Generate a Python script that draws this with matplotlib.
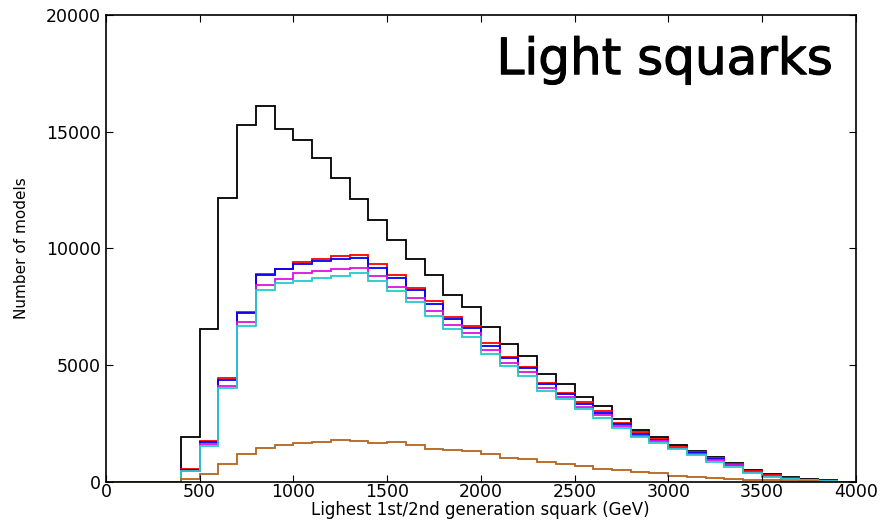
import numpy as np
import matplotlib
matplotlib.use("Agg")
import matplotlib.pyplot as plt
import matplotlib.patheffects as pe

# 100 GeV bins from 0 to 4000
edges = np.arange(0, 4001, 100)

all_models = [0, 0, 0, 0, 1930, 6540, 12160, 15280, 16090, 15140, 14660, 13890,
              13020, 12140, 11210, 10380, 9570, 8850, 8000, 7500, 6640, 5900,
              5400, 4640, 4180, 3640, 3240, 2690, 2210, 1930, 1570, 1330, 1070,
              790, 510, 330, 200, 110, 60, 0]
red_counts = [0, 0, 0, 0, 540, 1740, 4430, 7280, 8910, 9140, 9410, 9530, 9680,
              9710, 9320, 8880, 8310, 7750, 7070, 6680, 5930, 5340, 4930, 4240,
              3800, 3400, 3030, 2530, 2140, 1830, 1500, 1270, 1000, 760, 460,
              280, 150, 80, 60, 0]
blue_counts = [0, 0, 0, 0, 500, 1710, 4360, 7240, 8870, 9100, 9350, 9470, 9540,
               9580, 9180, 8750, 8210, 7640, 6970, 6610, 5810, 5290, 4860, 4180,
               3760, 3320, 2970, 2470, 2040, 1790, 1460, 1240, 960, 720, 440,
               270, 140, 80, 60, 0]
magenta_counts = [0, 0, 0, 0, 480, 1620, 4110, 6830, 8420, 8680, 8930, 9040,
                  9100, 9180, 8810, 8350, 7880, 7310, 6710, 6380, 5640, 5110,
                  4690, 4040, 3640, 3210, 2860, 2390, 1970, 1730, 1430, 1210,
                  930, 700, 420, 250, 130, 70, 50, 0]
cyan_counts = [0, 0, 0, 0, 470, 1530, 4030, 6680, 8210, 8540, 8610, 8750, 8840,
               8930, 8600, 8170, 7700, 7100, 6530, 6210, 5460, 4970, 4530, 3900,
               3540, 3110, 2740, 2300, 1900, 1660, 1390, 1140, 860, 640, 390,
               210, 115, 60, 50, 0]
brown_counts = [0, 0, 0, 0, 110, 320, 750, 1200, 1440, 1590, 1660, 1690, 1790,
                1740, 1660, 1710, 1590, 1410, 1370, 1310, 1200, 1030, 960, 860,
                770, 670, 570, 500, 430, 360, 260, 200, 160, 115, 85, 70, 40, 20,
                0, 0]

series = [(all_models, "black"), (red_counts, "red"), (blue_counts, "blue"),
          (magenta_counts, "#dd11dd"), (cyan_counts, "#22cccc"),
          (brown_counts, "#b5651d")]

fig = plt.figure(figsize=(8.83, 5.22), dpi=100)
ax = fig.add_axes([0.120, 0.077, 0.849, 0.894])

for counts, col in series:
    ax.stairs(counts, edges, color=col, linewidth=1.3, baseline=0)

ax.set_xlim(0, 4000)
ax.set_ylim(0, 20000)
ax.set_xticks(np.arange(0, 4001, 500))
ax.set_yticks(np.arange(0, 20001, 5000))
ax.tick_params(direction="in", top=True, right=True, length=5, labelsize=12.5)
ax.tick_params(axis="x", pad=1)
for s in ax.spines.values():
    s.set_linewidth(1.2)

ax.set_xlabel("Lighest 1st/2nd generation squark (GeV)", fontsize=12, labelpad=0)
ax.set_ylabel("Number of models", fontsize=11, labelpad=12)

# slightly heavier than regular: thin stroke of the same colour
ax.text(0.97, 0.955, "Light squarks", transform=ax.transAxes, ha="right",
        va="top", fontsize=36,
        path_effects=[pe.withStroke(linewidth=0.8, foreground="black")])

fig.savefig("out.png", dpi=100)
